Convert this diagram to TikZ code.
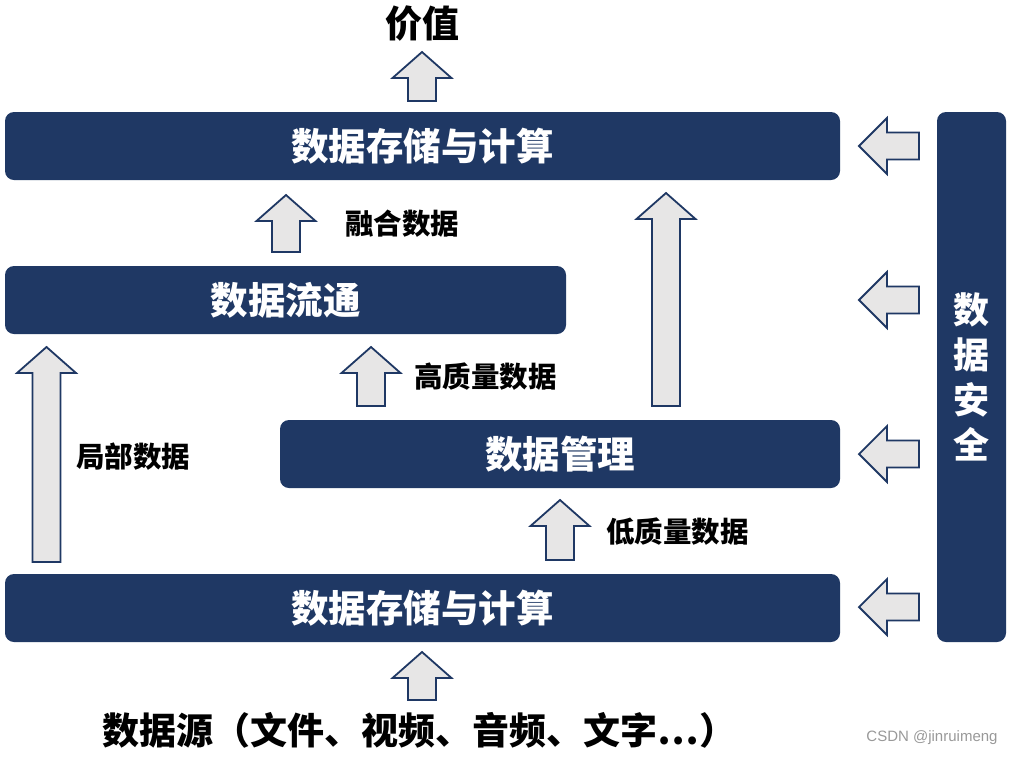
\documentclass[tikz,border=0pt]{standalone}
\usepackage{fontspec}
\newfontfamily\cjk{Noto Sans CJK SC}
\newfontfamily\wm{Liberation Sans}
\definecolor{navy}{RGB}{31,56,100}
\definecolor{arrgray}{RGB}{231,230,230}
\newcommand\UpBlk[3]{%
  \draw[blk] (#1-14,#2) -- (#1-14,#3+26) -- (#1-29.5,#3+26) -- (#1,#3) -- (#1+29.5,#3+26) -- (#1+14,#3+26) -- (#1+14,#2) -- cycle;}
\newcommand\LeftBlk[1]{%
  \draw[blk] (919,#1-13.5) -- (887,#1-13.5) -- (887,#1-28) -- (859,#1) -- (887,#1+28) -- (887,#1+13.5) -- (919,#1+13.5) -- cycle;}
\begin{document}
\begin{tikzpicture}[x=1pt,y=-1pt,
  box/.style={fill=navy, rounded corners=9pt, draw=none, inner sep=0pt, text=white,
    font=\cjk\bfseries\fontsize{37.5}{45}\selectfont},
  vbox/.style={fill=navy, rounded corners=9pt, draw=none, inner sep=0pt, text=white,
    font=\cjk\bfseries\fontsize{36}{45}\selectfont},
  blk/.style={fill=arrgray, draw=navy, line width=1.8pt, line join=miter},
  lbl/.style={anchor=west, inner sep=0pt, font=\cjk\bfseries\fontsize{28.5}{28.5}\selectfont},
  big/.style={inner sep=0pt, font=\cjk\bfseries\fontsize{37}{37}\selectfont}]
\useasboundingbox (0,0) rectangle (1014,756);
\fill[white] (0,0) rectangle (1014,756);
% boxes
\node[box, minimum width=835pt, minimum height=68pt] (store) at (422.5,146) {数据存储与计算};
\node[box, minimum width=561pt, minimum height=68pt] (flow) at (285.5,300) {数据流通};
\node[box, minimum width=560pt, minimum height=68pt] (mgmt) at (560,454) {数据管理};
\node[box, minimum width=835pt, minimum height=68pt] (base) at (422.5,608) {数据存储与计算};
\node[vbox, minimum width=69pt, minimum height=530pt, align=center] (sec) at (971.5,377) {数\\据\\安\\全};
% top and bottom texts
\node[big] (value) at (422,24) {价值};
\node[big] (src) at (419.5,730) {数据源（文件、视频、音频、文字…）};
% up arrows
\UpBlk{422}{101}{52}
\UpBlk{286}{252}{195}
\UpBlk{666}{406}{193}
\UpBlk{371}{406}{347}
\UpBlk{46.5}{562}{347}
\UpBlk{560}{560}{500}
\UpBlk{422}{700}{652}
% left arrows
\LeftBlk{146}
\LeftBlk{300}
\LeftBlk{454}
\LeftBlk{607}
% labels
\node[lbl] (l1) at (345,224) {融合数据};
\node[lbl] (l2) at (414,377) {高质量数据};
\node[lbl] (l3) at (76,457) {局部数据};
\node[lbl] (l4) at (606,532) {低质量数据};
\node[text=black!40, inner sep=0pt, font=\wm\fontsize{15}{15}\selectfont] (mark) at (932,738) {CSDN @jinruimeng};
\end{tikzpicture}
\end{document}
